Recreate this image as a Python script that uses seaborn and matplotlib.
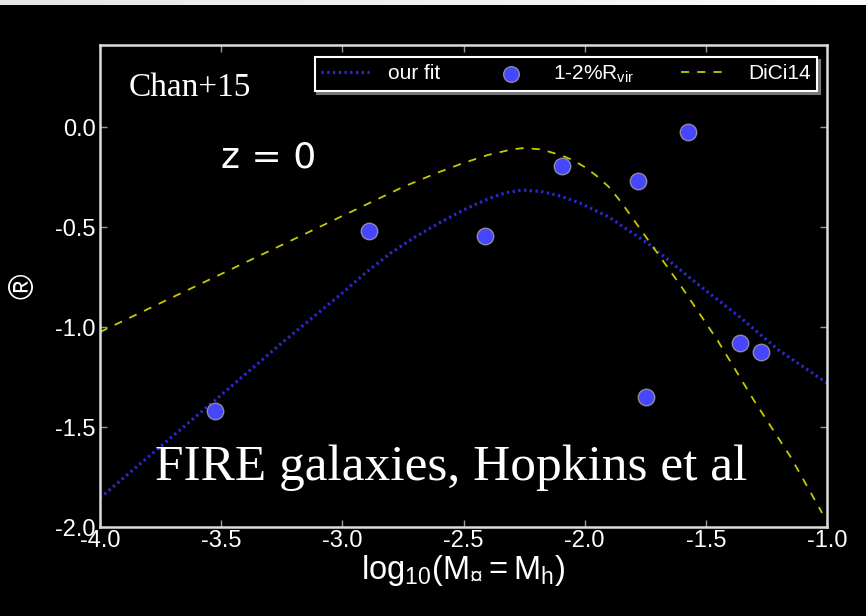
import numpy as np
import pandas as pd
import matplotlib
matplotlib.use("Agg")
import matplotlib.pyplot as plt
import seaborn as sns

# ---- data ----
fit_x = [-4.0, -3.5, -3.25, -3.0, -2.9, -2.8, -2.7, -2.6, -2.5, -2.4, -2.33, -2.26,
         -2.18, -2.1, -2.02, -1.9, -1.73, -1.55, -1.36, -1.2, -1.0]
fit_y = [-1.855, -1.34, -1.08, -0.83, -0.725, -0.63, -0.55, -0.48, -0.415, -0.36, -0.33, -0.315,
         -0.322, -0.345, -0.38, -0.45, -0.59, -0.77, -0.95, -1.115, -1.28]

dici_x = [-4.0, -3.5, -3.0, -2.75, -2.6, -2.5, -2.4, -2.3, -2.25, -2.18, -2.1, -2.05,
          -2.0, -1.95, -1.9, -1.85, -1.75, -1.6, -1.45, -1.3, -1.15, -1.02]
dici_y = [-1.025, -0.735, -0.445, -0.30, -0.225, -0.18, -0.14, -0.112, -0.105, -0.112, -0.14, -0.165,
          -0.2, -0.245, -0.3, -0.375, -0.545, -0.8, -1.07, -1.37, -1.65, -1.93]

fire_x = [-3.525, -2.89, -2.41, -2.093, -1.78, -1.573, -1.747, -1.359, -1.272]
fire_y = [-1.42, -0.52, -0.545, -0.195, -0.27, -0.025, -1.35, -1.08, -1.125]

x_ticks = [-4.0, -3.5, -3.0, -2.5, -2.0, -1.5, -1.0]
y_ticks = [-2.0, -1.5, -1.0, -0.5, 0.0]

sns.set_theme(style="ticks")
plt.rcParams["font.family"] = ["Liberation Sans", "DejaVu Sans"]
plt.rcParams["mathtext.fontset"] = "custom"
plt.rcParams["mathtext.rm"] = "Liberation Sans"
plt.rcParams["mathtext.it"] = "Liberation Sans:italic"

fig = plt.figure(figsize=(8.66, 6.16), dpi=100, facecolor="black")

# light strip on top
strip = fig.add_axes([0, 1 - 5 / 616, 1, 5 / 616])
grad = np.linspace(0.90, 0.985, 256).reshape(1, -1)
strip.imshow(grad, aspect="auto", cmap="gray", vmin=0, vmax=1)
strip.axis("off")

ax = fig.add_axes([100 / 866, 1 - 527 / 616, 727 / 866, 482 / 616])
ax.set_facecolor("black")

fit_df = pd.DataFrame({"x": fit_x, "y": fit_y})
dici_df = pd.DataFrame({"x": dici_x, "y": dici_y})
fire_df = pd.DataFrame({"x": fire_x, "y": fire_y})

sns.lineplot(data=fit_df, x="x", y="y", ax=ax, color="#2a2ae0", lw=2.3,
             linestyle=(0, (0.7, 1.1)), label="our fit", sort=False)
sns.scatterplot(data=fire_df, x="x", y="y", ax=ax, color="#4646ff", s=140,
                edgecolor="#8a8aa8", linewidth=1.0, label=r"1-2%R$_{\rm vir}$", zorder=5)
sns.lineplot(data=dici_df, x="x", y="y", ax=ax, color="#c8c800", lw=1.3,
             linestyle=(0, (4.5, 4.5)), label="DiCi14", sort=False)

ax.set_xlim(-4.0, -1.0)
ax.set_ylim(-2.0, 0.41)
ax.set_xticks(x_ticks)
ax.set_yticks(y_ticks)
ax.set_xticklabels([f"{v:.1f}" for v in x_ticks])
ax.set_yticklabels([f"{v:.1f}" for v in y_ticks])

for s in ax.spines.values():
    s.set_color("#dcdcdc")
    s.set_linewidth(1.8)
    s.set_visible(True)
ax.tick_params(axis="both", direction="in", length=5, width=1, color="#9a9a9a",
               labelcolor="white", labelsize=17, top=True, right=True)
ax.tick_params(axis="x", pad=2)
ax.tick_params(axis="y", pad=3)

ax.set_xlabel(r"$\mathrm{log_{10}(M_{¤}{=}M_h)}$", color="white", fontsize=23.5, labelpad=1)
ax.set_ylabel("®", color="white", fontsize=25)
ax.yaxis.set_label_coords(-0.082, 0.5)

leg = ax.legend(loc="upper right", bbox_to_anchor=(0.9862, 0.975), borderaxespad=0,
                ncol=3, fontsize=15, frameon=True, fancybox=False,
                shadow={"color": "#777777", "alpha": 1.0, "ox": 2, "oy": -2},
                handlelength=2.3, handletextpad=0.9, columnspacing=2.25,
                borderpad=0.3, markerscale=0.95)
leg.get_frame().set_facecolor("black")
leg.get_frame().set_edgecolor("white")
leg.get_frame().set_linewidth(1.5)
leg.get_frame().set_alpha(1.0)
for t in leg.get_texts():
    t.set_color("white")

ax.text(0.04, 0.912, "Chan+15", transform=ax.transAxes, color="white",
        fontsize=24, family=["Liberation Serif", "DejaVu Serif"], va="center", ha="left")
ax.text(0.167, 0.766, "z = 0", transform=ax.transAxes, color="white",
        fontsize=26, family=["DejaVu Sans"], va="center", ha="left")
ax.text(0.075, 0.122, "FIRE galaxies, Hopkins et al", transform=ax.transAxes,
        color="white", fontsize=37, family=["Liberation Serif", "DejaVu Serif"],
        va="center", ha="left")

fig.savefig("out.png", dpi=100, facecolor="black")
